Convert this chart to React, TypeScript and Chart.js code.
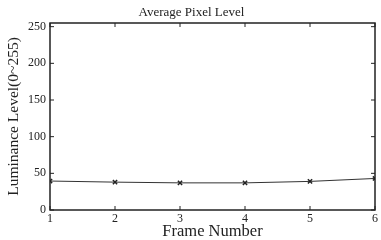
import React, { useEffect, useRef } from "react";
import { Chart, registerables } from "chart.js";

Chart.register(...registerables);

const frames = [1, 2, 3, 4, 5, 6];
const luminance = [39.5, 38, 37, 37, 39, 43];
const yTicks = [0, 50, 100, 150, 200, 250];
const xTicks = [1, 2, 3, 4, 5, 6];

const FONT = "'Liberation Serif', 'DejaVu Serif', serif";

const framePlugin = {
  id: "matlabFrame",
  afterDraw(chart: any) {
    const { ctx, chartArea: a, scales } = chart;
    ctx.save();
    ctx.strokeStyle = "#222";
    ctx.lineWidth = 1.5;
    ctx.strokeRect(a.left, a.top, a.right - a.left, a.bottom - a.top);
    ctx.lineWidth = 1;
    const len = 4;
    for (const v of yTicks) {
      const y = scales.y.getPixelForValue(v);
      ctx.beginPath();
      ctx.moveTo(a.left, y);
      ctx.lineTo(a.left + len, y);
      ctx.moveTo(a.right, y);
      ctx.lineTo(a.right - len, y);
      ctx.stroke();
    }
    for (const v of xTicks) {
      const x = scales.x.getPixelForValue(v);
      ctx.beginPath();
      ctx.moveTo(x, a.bottom);
      ctx.lineTo(x, a.bottom - len);
      ctx.moveTo(x, a.top);
      ctx.lineTo(x, a.top + len);
      ctx.stroke();
    }
    ctx.restore();
  },
};

export default function App() {
  const ref = useRef<HTMLCanvasElement>(null);
  useEffect(() => {
    const chart = new Chart(ref.current!, {
      type: "line",
      data: {
        datasets: [
          {
            data: frames.map((f, i) => ({ x: f, y: luminance[i] })),
            borderColor: "#333",
            borderWidth: 1,
            pointStyle: "crossRot",
            pointRadius: 3,
            pointBorderColor: "#222",
            pointBorderWidth: 1.5,
            tension: 0,
          },
        ],
      },
      options: {
        animation: false,
        responsive: false,
        layout: { padding: { top: 0, right: 4, bottom: 0, left: 6 } },
        plugins: {
          legend: { display: false },
          tooltip: { enabled: false },
          title: {
            display: true,
            text: "Average Pixel Level",
            color: "#222",
            font: { family: FONT, size: 13, weight: "normal", lineHeight: 1 },
            padding: { top: 6, bottom: 4 },
          },
        },
        scales: {
          x: {
            type: "linear",
            min: 1,
            max: 6,
            afterFit(s: any) {
              s.height = 30;
            },
            grid: { display: false, drawTicks: false },
            border: { display: false },
            ticks: {
              stepSize: 1,
              color: "#222",
              padding: 3,
              font: { family: FONT, size: 12, lineHeight: 1 },
            },
            title: {
              display: true,
              text: "Frame Number",
              color: "#222",
              padding: { top: 0, bottom: 0 },
              font: { family: FONT, size: 16.5, lineHeight: 1 },
            },
          },
          y: {
            min: 0,
            max: 255,
            afterFit(s: any) {
              s.width = 44;
            },
            afterBuildTicks(s: any) {
              s.ticks = yTicks.map((v) => ({ value: v }));
            },
            grid: { display: false, drawTicks: false },
            border: { display: false },
            ticks: {
              color: "#222",
              padding: 4,
              font: { family: FONT, size: 12 },
            },
            title: {
              display: true,
              text: "Luminance Level(0~255)",
              color: "#222",
              padding: { top: 0, bottom: 0 },
              font: { family: FONT, size: 15.5, lineHeight: 1 },
            },
          },
        },
      },
      plugins: [framePlugin],
    });
    return () => chart.destroy();
  }, []);
  return (
    <div style={{ position: "fixed", left: 0, top: 0, width: 381, height: 240, background: "#fff" }}>
      <canvas ref={ref} width={381} height={240} />
    </div>
  );
}
